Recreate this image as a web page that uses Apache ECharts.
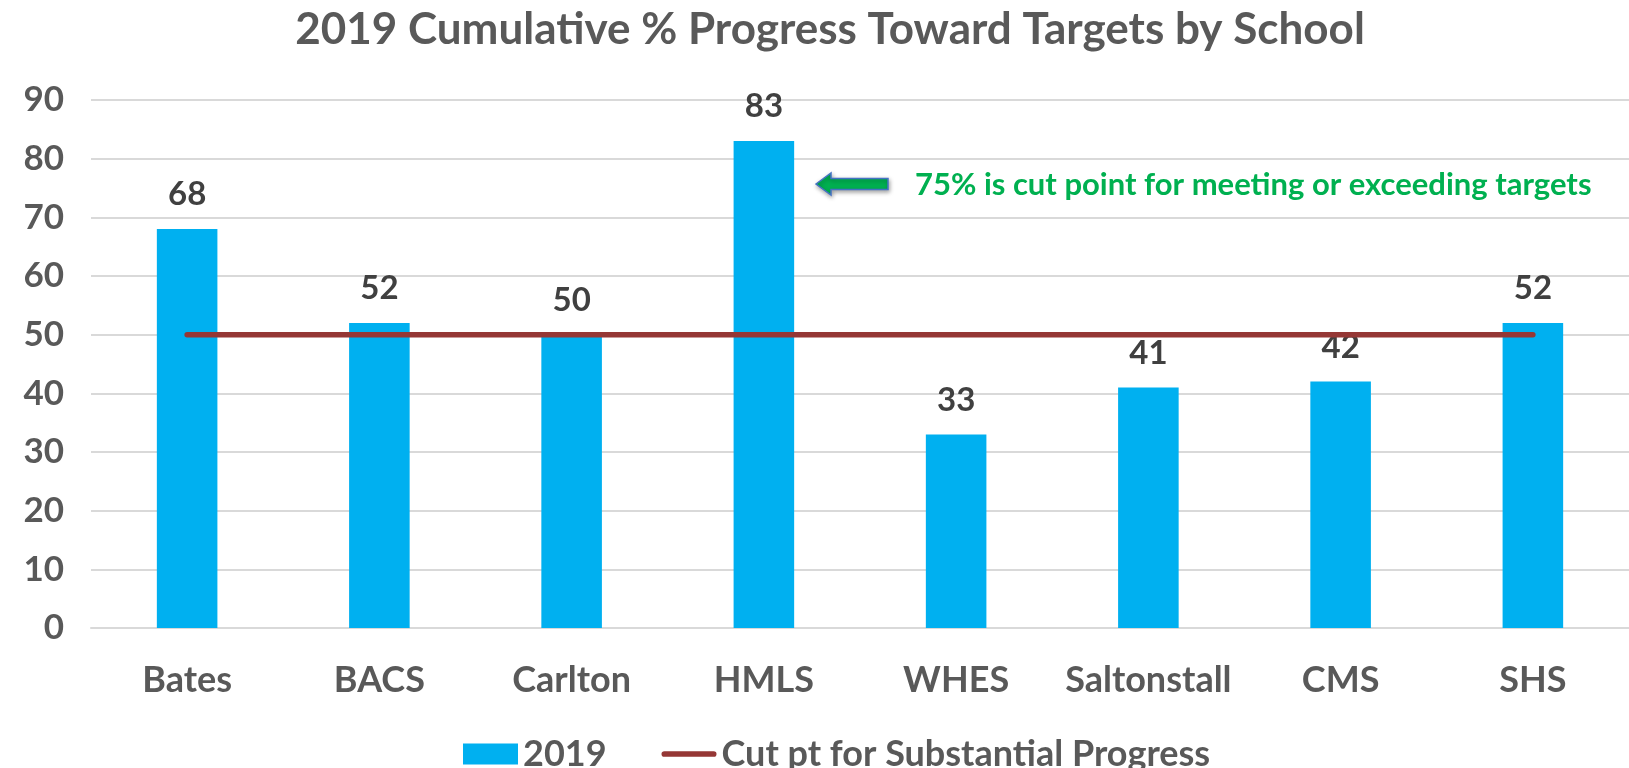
<!DOCTYPE html>
<html>
<head>
<meta charset="utf-8">
<script src="https://cdn.jsdelivr.net/npm/echarts@6/dist/echarts.min.js"></script>
<style>
html,body{margin:0;padding:0;background:#fff;}
#c{width:1629px;height:768px;}
</style>
</head>
<body>
<div id="c"></div>
<script>
const categories = ['Bates', 'BACS', 'Carlton', 'HMLS', 'WHES', 'Saltonstall', 'CMS', 'SHS'];
const values2019 = [68, 52, 50, 83, 33, 41, 42, 52];
const cutValues = [50, 50, 50, 50, 50, 50, 50, 50];
const yTicks = [0, 90, 10];
const titleText = '2019 Cumulative % Progress Toward Targets by School';
const noteText = '75% is cut point for meeting or exceeding targets';
const seriesNames = ['2019', 'Cut pt for Substantial Progress'];

const FONT = 'Lato, "Open Sans", "Liberation Sans", sans-serif';
const chart = echarts.init(document.getElementById('c'), null, {renderer: 'canvas'});

chart.setOption({
  backgroundColor: '#ffffff',
  animation: false,
  grid: {left: 91, top: 100, width: 1542, bottom: 140},
  legend: {
    left: 458, top: 731,
    itemWidth: 55, itemHeight: 21, itemGap: 55,
    textStyle: {fontFamily: FONT, fontWeight: 'bold', fontSize: 36, color: '#595959', lineHeight: 36},
    data: [
      {name: seriesNames[0], icon: 'rect'},
      {name: seriesNames[1], icon: 'path://M3,0 L55,0 A3,3 0 0 1 55,6 L3,6 A3,3 0 0 1 3,0 Z', itemStyle: {color: '#953735'}}
    ]
  },
  xAxis: {
    type: 'category',
    data: categories,
    axisTick: {show: false},
    axisLine: {show: true, lineStyle: {color: '#D9D9D9', width: 2}},
    axisLabel: {interval: 0, margin: 34, fontFamily: FONT, fontWeight: 'bold', fontSize: 36, color: '#595959'}
  },
  yAxis: {
    type: 'value',
    min: yTicks[0], max: yTicks[1], interval: yTicks[2],
    axisLine: {show: false}, axisTick: {show: false},
    splitLine: {lineStyle: {color: '#D9D9D9', width: 2}},
    axisLabel: {margin: 27, fontFamily: FONT, fontWeight: 'bold', fontSize: 35, color: '#595959'}
  },
  series: [
    {
      name: seriesNames[0], type: 'bar', data: values2019,
      barWidth: '31.5%',
      itemStyle: {color: '#00B0F0'},
      label: {show: true, position: 'top', distance: 18, fontFamily: FONT, fontWeight: 'bold', fontSize: 33, color: '#404040'}
    },
    {
      name: seriesNames[1], type: 'line', data: cutValues,
      symbol: 'none', showSymbol: false, z: 5,
      lineStyle: {color: '#953735', width: 5.5, cap: 'round'},
      itemStyle: {color: '#953735'}
    }
  ],
  graphic: [
    {
      type: 'text', x: 830, y: 30, z: 10,
      style: {text: titleText, fill: '#595959', font: 'bold 44px ' + FONT, align: 'center', verticalAlign: 'middle'}
    },
    {
      type: 'polygon', z: 10,
      shape: {points: [[816, 184], [831, 173], [831, 178.5], [888, 178.5], [888, 189.5], [831, 189.5], [831, 195]]},
      style: {fill: '#00B050', stroke: '#4472C4', lineWidth: 1.5, shadowBlur: 4, shadowColor: 'rgba(0,0,0,0.35)', shadowOffsetX: 1, shadowOffsetY: 2}
    },
    {
      type: 'text', x: 915, y: 185, z: 10,
      style: {text: noteText, fill: '#00B050', font: 'bold 31px ' + FONT, align: 'left', verticalAlign: 'middle'}
    }
  ]
});
</script>
</body>
</html>
